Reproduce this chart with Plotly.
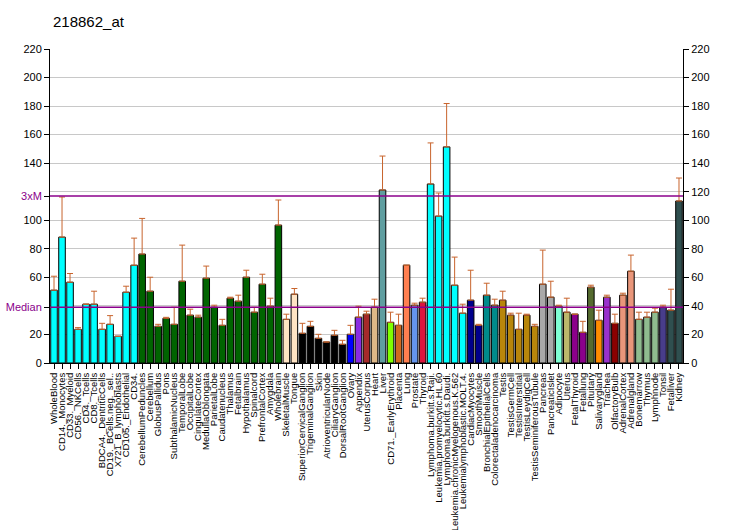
import plotly.graph_objects as go

categories = [
    "WholeBlood", "CD14._Monocytes", "CD33._Myeloid", "CD56._NKCells", "CD4._Tcells",
    "CD8._Tcells", "BDCA4._DentriticCells", "CD19._BCells.neg._sel..", "X721_B_lymphoblasts",
    "CD105._Endothelial", "CD34.", "CerebellumPeduncles", "Cerebellum", "GlobusPallidus",
    "Pons", "SubthalamicNucleus", "TemporalLobe", "OccipitalLobe", "CingulateCortex",
    "MedullaOblongata", "ParietalLobe", "Caudatenucleus", "Thalamus", "Fetalbrain",
    "Hypothalamus", "Spinalcord", "PrefrontalCortex", "Amygdala", "Wholebrain",
    "SkeletalMuscle", "Tongue", "SuperiorCervicalGanglion", "TrigeminalGanglion", "Skin",
    "AtrioventricularNode", "CiliaryGanglion", "DorsalRootGanglion", "Ovary", "Appendix",
    "UterusCorpus", "Heart", "Liver", "CD71._EarlyErythroid", "Placenta", "Lung",
    "Prostate", "Thyroid", "Lymphoma.burkitt.s.Raji.", "Leukemia.promyelocytic.HL.60",
    "Lymphoma.burkitt.s.Daudi.", "Leukemia.chronicMyelogenous.K.562",
    "Leukemialymphoblastic.MOLT.4.", "CardiacMyocytes", "SmoothMuscle",
    "BronchialEpithelialCells", "Colorectaladenocarcinoma", "Testis", "TestisGermCell",
    "TestisInterstitial", "TestisLeydigCell", "TestisSeminiferousTubule", "Pancreas",
    "PancreaticIslet", "Adipocyte", "Uterus", "FetalThyroid", "Fetallung", "Pituitary",
    "Salivarygland", "Trachea", "OlfactoryBulb", "AdrenalCortex", "Adrenalgland",
    "Bonemarrow", "Thymus", "Lymphnode", "Tonsil", "Fetalliver", "Kidney",
]

values = [
    51.0, 88.2, 56.6, 23.6, 41.2, 41.2, 23.6, 27.1, 18.7, 49.6, 68.5,
    76.3, 50.3, 25.7, 31.3, 27.1, 57.3, 33.5, 32.1, 59.4, 39.1, 26.4, 45.4, 43.3,
    60.1, 35.6, 55.2, 39.8, 96.6,
    30.6, 48.2, 20.8, 25.7, 17.3, 14.7, 19.4, 13.1, 20.1, 32.1, 34.2, 39.1,
    121.2, 28.5, 26.4, 68.5, 40.5, 42.6,
    125.4, 102.9, 151.4, 54.5, 34.9, 44.0, 26.4, 47.5, 40.5,
    44.0, 33.5, 23.6, 33.5, 25.7, 55.2, 46.1, 39.8, 35.6, 34.2, 21.5, 53.1,
    29.9, 46.1, 27.8, 47.5, 64.3, 30.6, 32.1, 35.6, 39.1, 37.0, 113.5,
]

error_tops = [
    60.8, 116.3, 62.7, 24.8, 41.2, 50.3, 27.8, 33.2, 18.7, 53.8, 87.5,
    101.3, 60.1, 27.1, 32.0, 39.1, 82.6, 37.7, 33.5, 67.9, 40.5, 30.6, 46.1, 47.5,
    65.0, 39.1, 62.2, 45.4, 114.2,
    34.2, 52.2, 27.8, 29.2, 20.1, 14.7, 22.9, 15.9, 26.4, 39.8, 36.3, 44.7,
    145.0, 35.6, 34.2, 68.5, 41.9, 45.4,
    154.2, 119.1, 181.8, 74.2, 41.2, 65.0, 27.1, 55.9, 44.7,
    50.3, 34.9, 34.9, 34.2, 27.1, 79.1, 57.3, 40.5, 45.4, 34.2, 29.2, 54.5,
    37.0, 47.5, 34.2, 48.9, 75.6, 35.6, 35.6, 38.4, 40.5, 51.7, 129.6,
]

colors = (
    ["#00FFFF"] * 11 + ["#006400"] * 18 + ["#FFE4C4"] * 2 + ["#000000"] * 6 +
    ["#0000FF", "#8A2BE2", "#A52A2A", "#DEB887", "#5F9EA0", "#7FFF00", "#D2691E",
     "#FF7F50", "#6495ED", "#DC143C"] +
    ["#00FFFF"] * 5 + ["#00008B"] * 2 + ["#008B8B"] * 2 + ["#B8860B"] * 5 +
    ["#A9A9A9"] * 2 + ["#7FFFD4", "#BDB76B"] + ["#8B008B"] * 2 +
    ["#556B2F", "#FF8C00", "#9932CC", "#8B0000"] + ["#E9967A"] * 2 +
    ["#8FBC8F"] * 3 + ["#483D8B"] + ["#2F4F4F"] * 2
)

median_value = 39.1
triple_median = 117.0
grid_ticks = list(range(0, 221, 20))

err_plus = [max(t - v, 0) for t, v in zip(error_tops, values)]

fig = go.Figure()
fig.add_trace(go.Bar(
    x=categories, y=values,
    marker=dict(color=colors, line=dict(color="black", width=1)),
    error_y=dict(type="data", symmetric=False, array=err_plus,
                 arrayminus=[0] * len(values), color="#C8642D",
                 thickness=1, width=3),
    hoverinfo="x+y",
))
fig.add_trace(go.Scatter(
    x=categories, y=values, yaxis="y2", mode="markers",
    marker=dict(opacity=0), hoverinfo="skip", showlegend=False,
))

purple = "#8B008B"
left_vals = [0, 20, median_value, 60, 80, 100, triple_median, 140, 160, 180, 200, 220]
left_text = ["0", "20", f'<span style="color:{purple}">Median</span>', "60", "80", "100",
             f'<span style="color:{purple}">3xM</span>', "140", "160", "180", "200", "220"]

for yv in (median_value, triple_median):
    fig.add_shape(type="line", xref="paper", x0=0, x1=1, yref="y", y0=yv, y1=yv,
                  line=dict(color=purple, width=1.5), layer="above")

fig.update_layout(
    width=732, height=530,
    margin=dict(l=50, r=49, t=49, b=167, autoexpand=False),
    paper_bgcolor="white", plot_bgcolor="white",
    showlegend=False,
    bargap=0.18,
    font=dict(family="Liberation Sans, Arial, sans-serif", size=11, color="black"),
    title=dict(text="218862_at", x=53 / 732, xanchor="left", xref="container",
               y=1 - 22 / 530, yanchor="middle", yref="container",
               font=dict(size=15, color="black")),
    xaxis=dict(
        type="category", range=[-0.5, len(categories) - 0.5],
        tickmode="array", tickvals=categories, ticktext=categories,
        tickangle=-90, tickfont=dict(size=9.5),
        ticks="outside", ticklen=5, tickcolor="black",
        showline=True, linecolor="black", linewidth=1,
        showgrid=False, fixedrange=True, automargin=False,
    ),
    yaxis=dict(
        range=[0, 220], tickvals=left_vals, ticktext=left_text,
        ticks="outside", ticklen=5, tickcolor="black",
        showline=True, linecolor="black", linewidth=1,
        showgrid=False, zeroline=False, fixedrange=True,
        tickfont=dict(size=11), automargin=False,
    ),
    yaxis2=dict(
        range=[0, 220], tickvals=grid_ticks, overlaying="y", side="right",
        ticks="outside", ticklen=5, tickcolor="black",
        showline=True, linecolor="black", linewidth=1,
        showgrid=True, gridcolor="#C8C8C8", gridwidth=1,
        zeroline=False, fixedrange=True, tickfont=dict(size=11), automargin=False,
    ),
)

fig.write_html(
    "out.html",
    config={"displayModeBar": False},
    post_script="document.body.style.margin='0';document.body.style.overflow='hidden';",
)
